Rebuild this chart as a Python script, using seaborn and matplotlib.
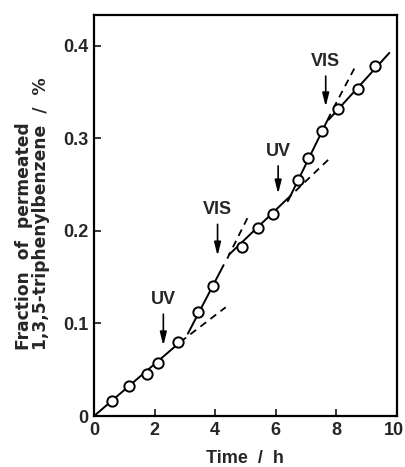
import matplotlib
matplotlib.use("Agg")
import matplotlib.pyplot as plt
import matplotlib.transforms as mtransforms
import seaborn as sns
import pandas as pd

# Measured points
time_h = [0.58, 1.16, 1.74, 2.13, 2.79, 3.45, 3.94, 4.88, 5.40, 5.90,
          6.74, 7.06, 7.53, 8.06, 8.70, 9.27]
fraction = [0.0165, 0.0324, 0.0454, 0.057, 0.080, 0.112, 0.140, 0.183, 0.2025, 0.2177,
            0.255, 0.2786, 0.308, 0.332, 0.3535, 0.378]

# Fitted solid segments (start/end)
solid_t = [[0.0, 2.85], [3.1, 4.28], [4.45, 6.35], [6.4, 7.8], [7.75, 9.75]]
solid_y = [[0.0, 0.080], [0.089, 0.163], [0.174, 0.2335], [0.232, 0.3255], [0.320, 0.392]]
# Dashed extrapolations
dash_t = [[2.85, 4.35], [4.4, 5.07], [6.35, 7.84], [7.9, 8.64]]
dash_y = [[0.080, 0.1175], [0.170, 0.214], [0.2335, 0.280], [0.332, 0.378]]

# Irradiation switch annotations
events = ["UV", "VIS", "UV", "VIS"]
event_t = [2.29, 4.08, 6.08, 7.65]
event_text_y = [0.126, 0.223, 0.286, 0.383]
event_tip_y = [0.073, 0.170, 0.237, 0.331]

x_ticks = [0, 2, 4, 6, 8, 10]
y_ticks = [0, 0.1, 0.2, 0.3, 0.4]
y_tick_labels = ["0", "0.1", "0.2", "0.3", "0.4"]

sns.set_style("ticks")
plt.rcParams["font.family"] = ["Liberation Sans", "DejaVu Sans"]
plt.rcParams["font.weight"] = "bold"

fig = plt.figure(figsize=(4.05, 4.67), dpi=100)
ax = fig.add_axes([0.232, 0.109, 0.748, 0.859])

for ts, ys in zip(solid_t, solid_y):
    sns.lineplot(x=ts, y=ys, ax=ax, color="black", linewidth=1.4)
for ts, ys in zip(dash_t, dash_y):
    sns.lineplot(x=ts, y=ys, ax=ax, color="black", linewidth=1.3,
                 linestyle=(0, (4, 3)))

df = pd.DataFrame({"t": time_h, "f": fraction})
sns.scatterplot(data=df, x="t", y="f", ax=ax, marker="o", s=55,
                facecolor="white", edgecolor="black", linewidth=1.4, zorder=5)

for lab, t, ty, tip in zip(events, event_t, event_text_y, event_tip_y):
    ax.annotate("", xy=(t, tip), xytext=(t, ty - 0.013),
                arrowprops=dict(arrowstyle="-|>,head_length=0.8,head_width=0.2",
                                color="black", lw=1.2))
    ax.text(t, ty, lab, ha="center", va="center", fontsize=13, fontweight="bold")

ax.set_xlim(0, 10)
ax.set_ylim(0, 0.433)
ax.set_xticks(x_ticks)
ax.set_xticklabels([str(v) for v in x_ticks])
ax.set_yticks(y_ticks)
ax.set_yticklabels(y_tick_labels)
ax.tick_params(direction="in", length=5, width=1.3, labelsize=13, pad=4)
for lbl in ax.get_xticklabels() + ax.get_yticklabels():
    lbl.set_fontweight("bold")
# last x tick label sits just inside the figure edge, as in the reference
last = ax.get_xticklabels()[-1]
last.set_transform(last.get_transform() +
                   mtransforms.ScaledTranslation(-3 / 100, 0, fig.dpi_scale_trans))
for sp in ax.spines.values():
    sp.set_linewidth(1.6)
    sp.set_color("black")

ax.set_xlabel("")
ax.set_ylabel("")
fig.text(0.606, 0.008, "Time  /  h", ha="center", va="baseline",
         fontsize=13, fontweight="bold")
fig.text(0.080, 0.2505, "Fraction  of  permeated\n1,3,5-triphenylbenzene  /  %",
         rotation=90, ha="center", va="bottom", multialignment="left",
         fontsize=12.3, fontweight="bold", linespacing=0.92,
         family=["DejaVu Sans"])

fig.savefig("out.png", dpi=100)
